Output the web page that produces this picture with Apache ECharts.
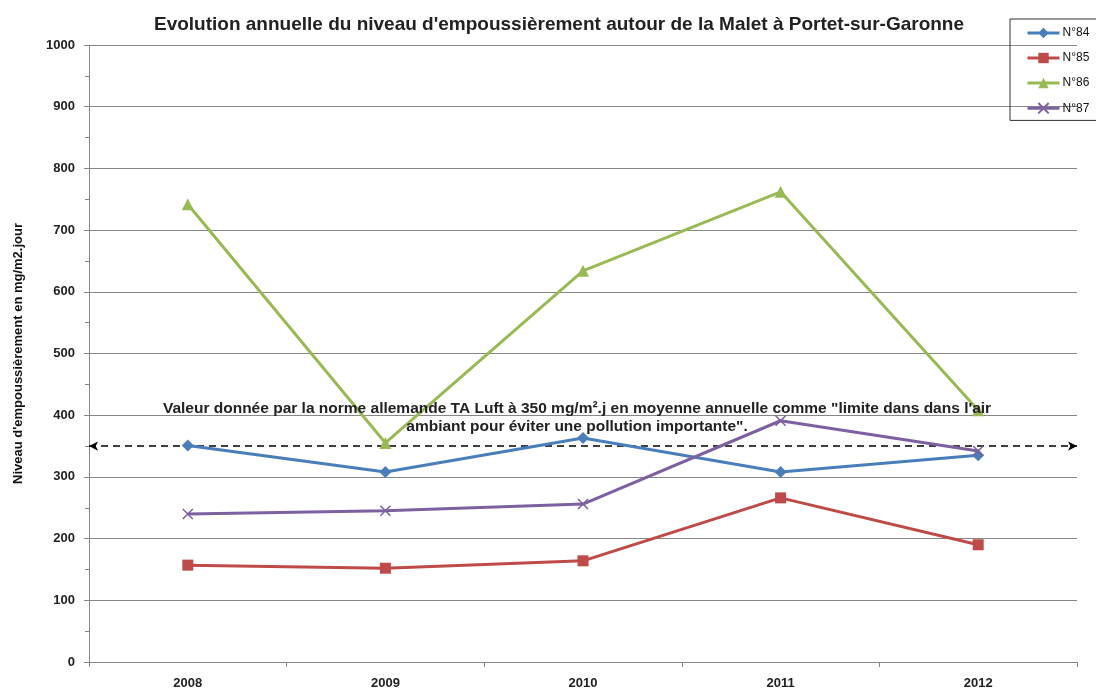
<!DOCTYPE html>
<html><head><meta charset="utf-8">
<script src="https://cdn.jsdelivr.net/npm/echarts@6/dist/echarts.min.js"></script>
<style>html,body{margin:0;padding:0;background:#fff}#c{width:1096px;height:691px}</style>
</head><body><div id="c"></div>
<script>
const years = ['2008','2009','2010','2011','2012'];
const n84 = [351, 308, 363, 308, 335];
const n85 = [157, 152, 164, 266, 190];
const n86 = [742, 355, 634, 762, 408];
const n87 = [240, 245, 256, 391, 342];
const seriesNames = ['N°84','N°85','N°86','N°87'];
const limitValue = 350;
const titleText = "Evolution annuelle du niveau d'empoussièrement autour de la Malet à Portet-sur-Garonne";
const yName = "Niveau d'empoussièrement en mg/m2.jour";
const noteLines = ['Valeur donnée par la norme allemande TA Luft à 350 mg/m².j en moyenne annuelle comme "limite dans dans l\'air', 'ambiant pour éviter une pollution importante".'];

const colors = ['#4A7EBB','#BE4B48','#98B954','#7D60A0'];
const symbols = ['diamond','rect','triangle','path://M0,0L10,10M10,0L0,10'];
const sizes = [12, 11, 12, 10];
const data = [n84, n85, n86, n87];
const chart = echarts.init(document.getElementById('c'));
const series = data.map((d,i)=>({
  name: seriesNames[i], type:'line', data:d, symbol:symbols[i], symbolSize:sizes[i],
  lineStyle:{width:3,color:colors[i]},
  itemStyle:{color:colors[i], borderColor:colors[i], borderWidth: i===3?1.5:0},
  z: 3
}));
series[0].markLine = {
  silent:true, symbol:['arrow','arrow'], symbolSize:[7,9],
  lineStyle:{color:'#000',type:[7,5],width:1.5},
  label:{show:false},
  data:[{yAxis:limitValue}],
  z: 2
};
chart.setOption({
  animation:false,
  title:{text:titleText,left:554,textAlign:'center',top:10,textStyle:{fontFamily:'Liberation Sans',fontWeight:'bold',fontSize:19,color:'#222'}},
  legend:{orient:'vertical',left:1010,top:19,padding:[8,8,6,16],itemGap:13,itemWidth:32,itemHeight:13,
    lineStyle:{width:3},
    borderColor:'#333',borderWidth:1,textStyle:{fontFamily:'Liberation Sans',fontSize:12,color:'#111',padding:[0,0,0,-2]},
    data:seriesNames},
  grid:{left:89,right:19,top:45,bottom:29},
  xAxis:{type:'category',data:years,boundaryGap:true,
    axisLine:{lineStyle:{color:'#868686'}},axisTick:{show:true,length:5,lineStyle:{color:'#868686'}},
    axisLabel:{fontFamily:'Liberation Sans',fontWeight:'bold',fontSize:13,color:'#222',margin:15}},
  yAxis:{type:'value',min:0,max:1000,interval:100,
    name:yName,nameLocation:'middle',nameGap:64,nameRotate:90,
    nameTextStyle:{fontFamily:'Liberation Sans',fontWeight:'bold',fontSize:13,color:'#111'},
    axisLine:{show:true,lineStyle:{color:'#868686'}},axisTick:{show:true,length:5,lineStyle:{color:'#868686'}},
    minorTick:{show:true,splitNumber:2,length:4,lineStyle:{color:'#868686'}},
    splitLine:{lineStyle:{color:'#868686',width:1}},
    axisLabel:{fontFamily:'Liberation Sans',fontWeight:'bold',fontSize:13,color:'#222',margin:14,formatter:v=>String(v)}},
  graphic:[
    {type:'text',x:577,y:401,style:{text:noteLines[0],textAlign:'center',font:'bold 15.5px "Liberation Sans"',fill:'#222'},z:10},
    {type:'text',x:577,y:419,style:{text:noteLines[1],textAlign:'center',font:'bold 15.5px "Liberation Sans"',fill:'#222'},z:10}
  ],
  series:series
});
</script></body></html>
